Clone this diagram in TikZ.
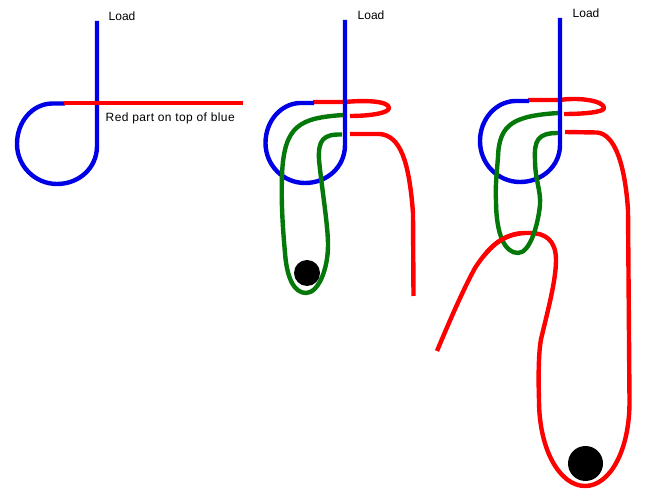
\documentclass[tikz,border=0pt]{standalone}
\usepackage{fontspec}
\setmainfont{Liberation Sans}
\definecolor{rope blue}{RGB}{0,0,230}
\definecolor{rope red}{RGB}{255,0,0}
\definecolor{rope green}{RGB}{5,120,10}
\tikzset{
  rope/.style={line width=4.4pt,line join=round},
  blueline/.style={rope,draw=rope blue},
  redline/.style={rope,draw=rope red},
  greenline/.style={rope,draw=rope green},
  label/.style={inner sep=0pt,anchor=west,font=\fontsize{12}{14}\selectfont},
  weight/.style={circle,fill=black,inner sep=0pt}
}
\newcommand{\longredpath}{(565,132) -- (597,132.5) .. controls (615,134) and (625,165) .. (628,210) -- (629.5,400) .. controls (630,450) and (610,486) .. (585,486) .. controls (560,486) and (539,450) .. (539,400) .. controls (538,370) and (539,345) .. (542,335) .. controls (548,310) and (556,280) .. (556,260) .. controls (556,240) and (545,233) .. (530,233) .. controls (505,232) and (490,245) .. (475,268) .. controls (463,290) and (450,320) .. (437,351)}
\begin{document}
\begin{tikzpicture}[x=1pt,y=-1pt]
\useasboundingbox[fill=white] (0,0) rectangle (654,502);
% Figure 1
\draw[blueline] (97,21) -- (97,146) .. controls (97,168) and (79,184) .. (57,184) .. controls (35,184) and (17,166) .. (17,144) .. controls (17,122) and (32,104) .. (52,103.5) -- (65,103.5);
\draw[redline] (64,103) -- (243,103);
\node[label] (load1) at (108.5,16) {Load};
\node[label] (note) at (105.5,118) {\addfontfeature{LetterSpace=3.4}Red part on top of blue};
% Figure 2
\draw[redline] (313,102) -- (345,102) .. controls (365,100) and (389,101) .. (389,108) .. controls (389,113) and (370,116) .. (350,116);
\draw[redline] (350,134) -- (380,134) .. controls (400,136) and (409,160) .. (413,213) -- (413.5,296);
\draw[blueline] (345,20) -- (345,145) .. controls (345,167) and (327,183) .. (305,183) .. controls (283,183) and (265.5,165) .. (265.5,143) .. controls (265.5,121) and (281,103.5) .. (300,103) -- (314,103);
\draw[greenline] (343,115) .. controls (300,118) and (284,125) .. (282,175) .. controls (281,205) and (283,230) .. (285,253) .. controls (287,280) and (295,293) .. (306,293) .. controls (318,293) and (328,270) .. (328,245) .. controls (328,225) and (322,190) .. (319,160) .. controls (318,140) and (323,134) .. (342,134.5);
\node[weight,minimum size=26pt] (ball2) at (307,273) {};
\node[label] (load2) at (357.5,15) {Load};
% Figure 3
\draw[redline] (528,100) -- (560,100) .. controls (580,97) and (604,101) .. (604,108) .. controls (604,112) and (585,114) .. (564,114);
\draw[redline] \longredpath;
\draw[blueline] (560,18) -- (560,145) .. controls (560,166) and (542,182) .. (520,182) .. controls (498,182) and (480,164) .. (480,141) .. controls (480,119) and (496,101.5) .. (515,101) -- (529,101);
\draw[greenline] (558,113) .. controls (515,116) and (499,123) .. (498,157) .. controls (497,170) and (495,190) .. (496,200) .. controls (496,235) and (505,253) .. (518,253) .. controls (530,253) and (538,225) .. (540,205) .. controls (541,190) and (535,180) .. (535,160) .. controls (534,140) and (538,133) .. (558,133);
\begin{scope}
\clip (485,215) rectangle (520,262);
\draw[redline] \longredpath;
\end{scope}
\node[weight,minimum size=35pt] (ball3) at (585.5,463.5) {};
\node[label] (load3) at (572.5,13) {Load};
\end{tikzpicture}
\end{document}
